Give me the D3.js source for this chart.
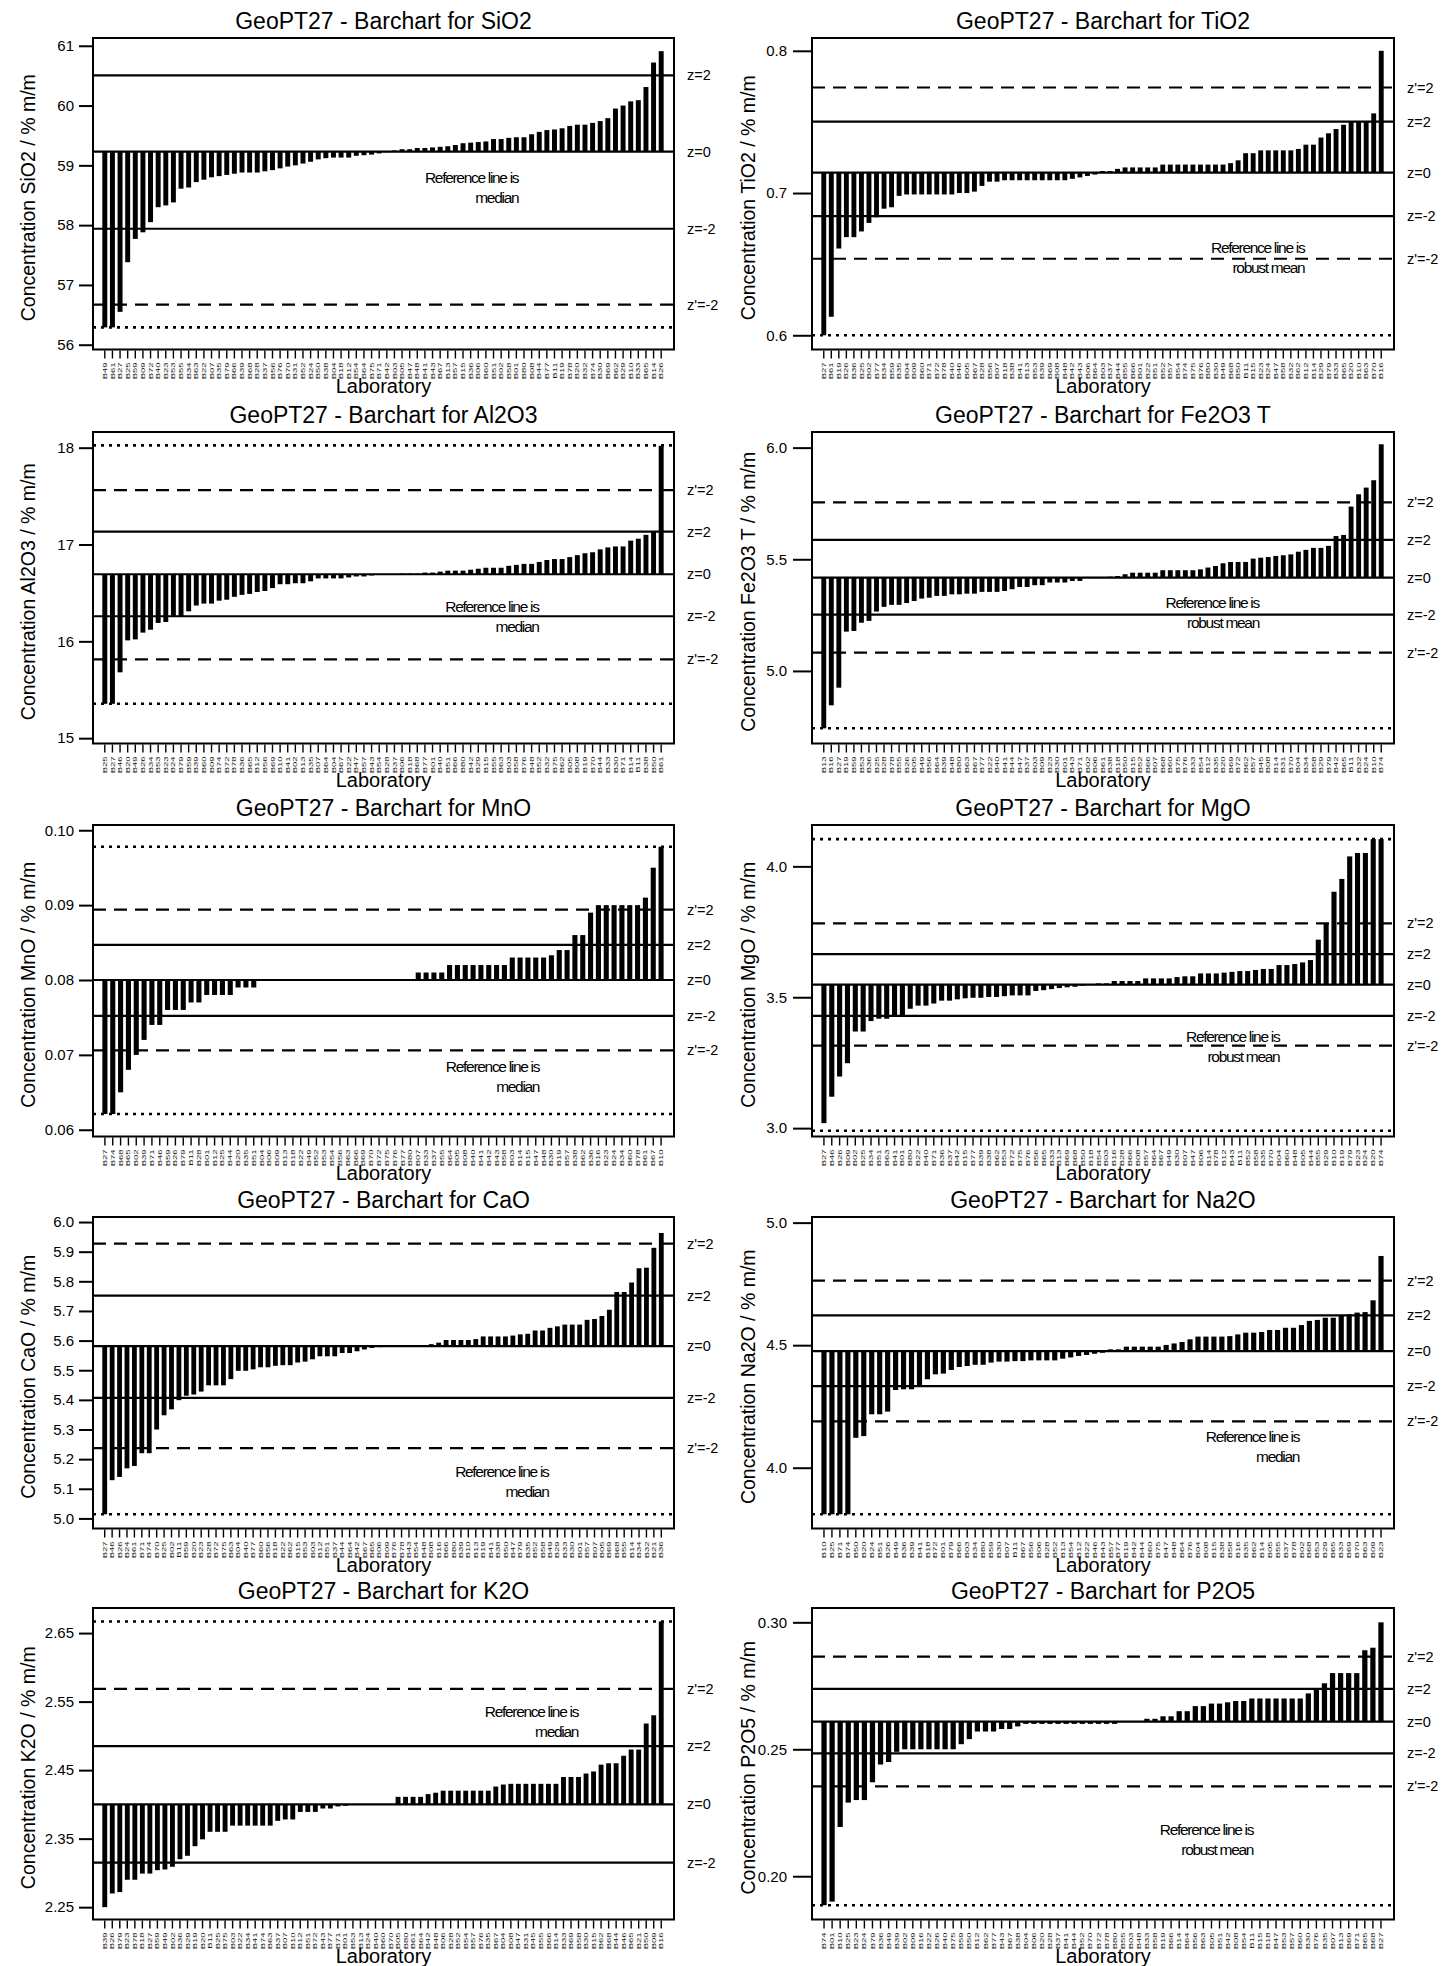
<!DOCTYPE html>
<html><head><meta charset="utf-8">
<script src="https://cdn.jsdelivr.net/npm/d3@7"></script>
<style>html,body{margin:0;padding:0;background:#fff;} svg{display:block;font-family:"Liberation Sans",Arial,Helvetica,sans-serif;}</style>
</head><body><svg id="c" width="1442" height="1966"></svg>
<script>
// ---------------- DATA ----------------
const labs_SiO2 = ["B49","B61","B27","B25","B59","B09","B72","B40","B23","B53","B55","B34","B63","B22","B07","B35","B79","B66","B39","B68","B28","B37","B56","B76","B70","B31","B52","B24","B50","B38","B04","B18","B12","B54","B64","B75","B71","B42","B03","B05","B47","B48","B41","B43","B67","B13","B57","B15","B36","B06","B60","B51","B02","B58","B01","B80","B08","B44","B77","B11","B19","B78","B20","B32","B74","B30","B69","B62","B29","B10","B33","B65","B14","B26"];
const vals_SiO2 = [56.29,56.29,56.55,57.38,57.77,57.88,58.05,58.30,58.33,58.38,58.61,58.63,58.72,58.76,58.80,58.82,58.84,58.86,58.88,58.88,58.88,58.90,58.92,58.95,58.98,59.00,59.03,59.06,59.10,59.12,59.13,59.13,59.13,59.16,59.17,59.18,59.20,59.22,59.25,59.27,59.27,59.29,59.29,59.30,59.31,59.32,59.34,59.37,59.38,59.39,59.40,59.44,59.44,59.46,59.47,59.47,59.52,59.56,59.59,59.60,59.62,59.66,59.68,59.68,59.71,59.74,59.79,59.95,60.00,60.07,60.09,60.31,60.72,60.91];
const lines_SiO2 = [60.506,59.23,57.94,56.67,56.29];
const lineLabs_SiO2 = ["z=2","z=0","z=-2","z'=-2",""];
const ticks_SiO2 = ["56","57","58","59","60","61"];
const range_SiO2 = [55.92,61.13];

const labs_TiO2 = ["B27","B61","B19","B26","B36","B25","B02","B77","B34","B59","B35","B04","B09","B60","B71","B72","B78","B40","B46","B05","B67","B28","B56","B07","B18","B38","B41","B13","B53","B39","B69","B08","B48","B42","B43","B06","B64","B03","B37","B44","B55","B66","B01","B22","B51","B52","B57","B54","B74","B75","B76","B80","B30","B49","B68","B50","B11","B15","B23","B24","B47","B58","B32","B62","B12","B14","B29","B79","B33","B65","B20","B10","B63","B70","B16"];
const vals_TiO2 = [0.600,0.613,0.661,0.669,0.669,0.673,0.679,0.683,0.689,0.690,0.698,0.699,0.699,0.699,0.699,0.699,0.699,0.699,0.700,0.700,0.701,0.705,0.708,0.708,0.709,0.709,0.709,0.709,0.709,0.709,0.709,0.709,0.709,0.710,0.711,0.712,0.713,0.7155,0.7155,0.717,0.718,0.718,0.718,0.718,0.718,0.720,0.720,0.720,0.720,0.720,0.720,0.720,0.720,0.720,0.721,0.723,0.728,0.728,0.730,0.730,0.730,0.730,0.730,0.731,0.734,0.734,0.739,0.742,0.745,0.748,0.750,0.750,0.750,0.756,0.800];
const lines_TiO2 = [0.7742,0.7502,0.7143,0.6838,0.6538,0.600];
const lineLabs_TiO2 = ["z'=2","z=2","z=0","z=-2","z'=-2",""];
const ticks_TiO2 = ["0.6","0.7","0.8"];
const range_TiO2 = [0.590,0.809];

const labs_Al2O3 = ["B25","B27","B46","B20","B49","B26","B34","B53","B23","B24","B79","B59","B39","B60","B09","B74","B72","B78","B36","B65","B12","B56","B69","B10","B41","B02","B13","B35","B07","B64","B04","B67","B22","B47","B57","B43","B54","B28","B37","B06","B18","B68","B77","B01","B40","B51","B66","B80","B42","B29","B15","B55","B63","B03","B58","B76","B48","B52","B32","B75","B62","B05","B08","B19","B70","B44","B33","B30","B71","B14","B11","B38","B50","B61"];
const vals_Al2O3 = [15.355,15.355,15.68,16.01,16.02,16.09,16.12,16.19,16.20,16.26,16.26,16.31,16.37,16.39,16.39,16.42,16.43,16.46,16.48,16.49,16.51,16.52,16.55,16.59,16.59,16.60,16.60,16.62,16.65,16.65,16.65,16.65,16.66,16.67,16.67,16.68,16.69,16.693,16.693,16.70,16.70,16.70,16.71,16.71,16.72,16.73,16.73,16.73,16.74,16.75,16.76,16.76,16.76,16.78,16.79,16.80,16.80,16.82,16.84,16.85,16.85,16.87,16.89,16.91,16.92,16.95,16.97,16.98,16.98,17.04,17.06,17.10,17.13,18.02];
const lines_Al2O3 = [18.024,17.562,17.134,16.693,16.259,15.814,15.355];
const lineLabs_Al2O3 = ["","z'=2","z=2","z=0","z=-2","z'=-2",""];
const ticks_Al2O3 = ["15","16","17","18"];
const range_Al2O3 = [14.945,18.162];

const labs_Fe2O3 = ["B13","B16","B27","B19","B59","B53","B36","B25","B28","B78","B55","B26","B05","B49","B56","B64","B39","B48","B80","B63","B67","B77","B22","B40","B41","B44","B47","B37","B03","B09","B23","B30","B01","B43","B71","B02","B06","B61","B38","B18","B50","B15","B52","B66","B07","B68","B60","B75","B76","B33","B54","B12","B35","B20","B69","B72","B62","B57","B45","B08","B14","B31","B70","B04","B34","B58","B29","B79","B42","B65","B11","B32","B24","B10","B74"];
const vals_Fe2O3 = [4.743,4.846,4.925,5.176,5.179,5.216,5.224,5.266,5.287,5.296,5.296,5.304,5.313,5.324,5.328,5.336,5.336,5.343,5.343,5.346,5.346,5.354,5.354,5.354,5.358,5.366,5.376,5.376,5.384,5.384,5.396,5.396,5.396,5.403,5.403,5.421,5.421,5.421,5.422,5.425,5.433,5.440,5.440,5.440,5.440,5.451,5.451,5.451,5.451,5.451,5.455,5.463,5.470,5.482,5.488,5.488,5.488,5.503,5.507,5.510,5.515,5.518,5.522,5.534,5.542,5.551,5.551,5.560,5.604,5.609,5.736,5.791,5.821,5.854,6.015];
const lines_Fe2O3 = [5.755,5.587,5.418,5.252,5.082,4.743];
const lineLabs_Fe2O3 = ["z'=2","z=2","z=0","z=-2","z'=-2",""];
const ticks_Fe2O3 = ["5.0","5.5","6.0"];
const range_Fe2O3 = [4.675,6.070];

const labs_MnO = ["B27","B74","B68","B65","B02","B39","B71","B46","B59","B26","B79","B11","B28","B01","B12","B25","B44","B20","B35","B51","B04","B06","B09","B13","B18","B22","B49","B52","B53","B54","B56","B63","B66","B69","B70","B72","B75","B76","B77","B80","B07","B33","B37","B55","B64","B05","B08","B40","B41","B42","B43","B58","B03","B14","B15","B47","B48","B30","B19","B57","B38","B62","B36","B16","B23","B24","B34","B60","B78","B61","B67","B10"];
const vals_MnO = [0.0621,0.0621,0.065,0.068,0.070,0.072,0.074,0.074,0.076,0.076,0.076,0.077,0.077,0.078,0.078,0.078,0.078,0.079,0.079,0.079,0.080,0.080,0.080,0.080,0.080,0.080,0.080,0.080,0.080,0.080,0.080,0.080,0.080,0.080,0.080,0.080,0.080,0.080,0.080,0.080,0.081,0.081,0.081,0.081,0.082,0.082,0.082,0.082,0.082,0.082,0.082,0.082,0.083,0.083,0.083,0.083,0.083,0.0833,0.084,0.084,0.086,0.086,0.089,0.090,0.090,0.090,0.090,0.090,0.090,0.091,0.095,0.0978];
const lines_MnO = [0.0978,0.0894,0.0847,0.0800,0.0752,0.0706,0.0621];
const lineLabs_MnO = ["","z'=2","z=2","z=0","z=-2","z'=-2",""];
const ticks_MnO = ["0.06","0.07","0.08","0.09","0.10"];
const range_MnO = [0.0591,0.1007];

const labs_MgO = ["B27","B46","B26","B09","B02","B25","B34","B51","B63","B41","B01","B80","B22","B40","B71","B36","B37","B42","B15","B77","B39","B38","B62","B53","B72","B75","B76","B56","B65","B33","B13","B69","B68","B50","B18","B54","B03","B16","B28","B66","B08","B57","B64","B67","B49","B30","B07","B47","B06","B14","B78","B12","B43","B11","B52","B58","B35","B70","B04","B60","B48","B05","B44","B55","B29","B10","B19","B79","B23","B24","B20","B74"];
const vals_MgO = [3.019,3.120,3.197,3.248,3.369,3.369,3.409,3.418,3.418,3.431,3.431,3.456,3.468,3.468,3.476,3.487,3.487,3.492,3.496,3.498,3.498,3.501,3.501,3.504,3.507,3.507,3.507,3.524,3.527,3.531,3.535,3.538,3.540,3.544,3.548,3.553,3.553,3.562,3.562,3.562,3.562,3.572,3.572,3.572,3.572,3.577,3.580,3.580,3.591,3.591,3.591,3.594,3.597,3.600,3.600,3.604,3.608,3.608,3.623,3.623,3.627,3.633,3.642,3.720,3.782,3.903,3.952,4.038,4.051,4.051,4.104,4.104];
const lines_MgO = [4.104,3.782,3.665,3.548,3.429,3.315,2.990];
const lineLabs_MgO = ["","z'=2","z=2","z=0","z=-2","z'=-2",""];
const ticks_MgO = ["3.0","3.5","4.0"];
const range_MgO = [2.968,4.158];

const labs_CaO = ["B27","B46","B26","B24","B61","B71","B74","B70","B25","B02","B11","B59","B20","B23","B28","B72","B75","B63","B04","B40","B77","B60","B56","B18","B22","B62","B15","B53","B03","B12","B51","B37","B44","B64","B42","B67","B65","B06","B09","B76","B78","B43","B54","B48","B08","B16","B66","B80","B39","B10","B13","B19","B41","B38","B50","B47","B79","B35","B52","B58","B49","B29","B33","B30","B01","B57","B07","B05","B69","B68","B55","B14","B34","B32","B21","B36"];
const vals_CaO = [5.014,5.129,5.140,5.169,5.177,5.220,5.220,5.300,5.348,5.368,5.399,5.414,5.418,5.428,5.449,5.449,5.449,5.470,5.498,5.498,5.503,5.510,5.510,5.515,5.517,5.517,5.526,5.529,5.537,5.547,5.547,5.547,5.558,5.558,5.564,5.570,5.575,5.578,5.581,5.581,5.581,5.581,5.581,5.584,5.588,5.593,5.602,5.602,5.602,5.602,5.605,5.614,5.614,5.614,5.614,5.617,5.621,5.623,5.634,5.634,5.643,5.648,5.654,5.654,5.654,5.670,5.673,5.683,5.704,5.764,5.764,5.796,5.844,5.846,5.913,5.963];
const lines_CaO = [5.927,5.752,5.581,5.407,5.237,5.014];
const lineLabs_CaO = ["z'=2","z=2","z=0","z=-2","z'=-2",""];
const ticks_CaO = ["5.0","5.1","5.2","5.3","5.4","5.5","5.6","5.7","5.8","5.9","6.0"];
const range_CaO = [4.966,6.017];

const labs_Na2O = ["B10","B25","B71","B74","B50","B20","B24","B51","B26","B49","B36","B39","B41","B18","B72","B01","B79","B66","B03","B34","B80","B59","B30","B07","B11","B67","B56","B06","B28","B52","B13","B54","B12","B22","B46","B43","B57","B77","B19","B42","B44","B60","B75","B47","B48","B64","B76","B04","B08","B15","B38","B58","B16","B35","B62","B14","B05","B55","B37","B78","B02","B68","B53","B29","B65","B33","B69","B70","B63","B09","B23"];
const vals_Na2O = [3.810,3.810,3.810,3.810,4.122,4.129,4.218,4.218,4.229,4.317,4.320,4.320,4.331,4.361,4.381,4.384,4.399,4.411,4.415,4.420,4.420,4.429,4.433,4.433,4.435,4.435,4.438,4.438,4.438,4.438,4.445,4.450,4.456,4.460,4.465,4.469,4.483,4.483,4.494,4.494,4.494,4.494,4.494,4.501,4.507,4.513,4.524,4.535,4.535,4.535,4.535,4.537,4.544,4.551,4.551,4.554,4.562,4.562,4.571,4.571,4.582,4.599,4.603,4.612,4.612,4.622,4.626,4.633,4.635,4.683,4.864];
const lines_Na2O = [4.763,4.622,4.476,4.333,4.189,3.810];
const lineLabs_Na2O = ["z'=2","z=2","z=0","z=-2","z'=-2",""];
const ticks_Na2O = ["4.0","4.5","5.0"];
const range_Na2O = [3.752,5.023];

const labs_K2O = ["B39","B26","B79","B23","B78","B18","B27","B59","B49","B02","B36","B29","B19","B20","B11","B25","B75","B03","B22","B34","B41","B74","B63","B37","B07","B10","B12","B51","B72","B43","B77","B71","B01","B53","B13","B24","B40","B60","B70","B05","B80","B61","B64","B42","B48","B06","B28","B52","B54","B57","B76","B35","B67","B04","B08","B47","B31","B45","B55","B66","B14","B33","B69","B58","B30","B15","B62","B68","B44","B46","B65","B21","B50","B09","B16"];
const vals_K2O = [2.250,2.270,2.272,2.290,2.290,2.299,2.299,2.304,2.305,2.309,2.320,2.325,2.339,2.349,2.360,2.360,2.360,2.369,2.369,2.369,2.369,2.369,2.369,2.376,2.378,2.378,2.389,2.389,2.389,2.394,2.394,2.397,2.398,2.399,2.400,2.400,2.400,2.400,2.400,2.411,2.411,2.411,2.411,2.415,2.417,2.420,2.420,2.420,2.420,2.420,2.420,2.420,2.426,2.429,2.430,2.430,2.430,2.430,2.430,2.430,2.430,2.440,2.440,2.440,2.445,2.448,2.458,2.460,2.460,2.471,2.480,2.480,2.518,2.530,2.667];
const lines_K2O = [2.667,2.5685,2.485,2.400,2.315];
const lineLabs_K2O = ["","z'=2","z=2","z=0","z=-2"];
const ticks_K2O = ["2.25","2.35","2.45","2.55","2.65"];
const range_K2O = [2.232,2.6866];

const labs_P2O5 = ["B74","B01","B10","B25","B23","B24","B79","B36","B49","B39","B02","B09","B16","B22","B26","B40","B75","B59","B50","B12","B62","B77","B43","B67","B38","B04","B06","B20","B28","B37","B41","B44","B52","B70","B72","B78","B80","B55","B03","B48","B33","B58","B19","B66","B14","B64","B56","B63","B05","B51","B42","B08","B54","B11","B15","B18","B47","B53","B57","B60","B30","B76","B35","B07","B13","B69","B71","B65","B68","B27"];
const vals_P2O5 = [0.1886,0.190,0.2194,0.229,0.230,0.230,0.237,0.244,0.245,0.249,0.250,0.250,0.250,0.250,0.250,0.250,0.250,0.252,0.254,0.257,0.257,0.257,0.258,0.258,0.259,0.260,0.260,0.260,0.260,0.260,0.260,0.260,0.260,0.260,0.260,0.260,0.260,0.2609,0.261,0.261,0.262,0.262,0.263,0.263,0.265,0.265,0.267,0.267,0.268,0.268,0.2685,0.269,0.269,0.270,0.270,0.270,0.270,0.270,0.270,0.270,0.272,0.274,0.276,0.280,0.280,0.280,0.280,0.289,0.290,0.300];
const lines_P2O5 = [0.2865,0.2738,0.2609,0.2484,0.2354,0.1886];
const lineLabs_P2O5 = ["z'=2","z=2","z=0","z=-2","z'=-2",""];
const ticks_P2O5 = ["0.20","0.25","0.30"];
const range_P2O5 = [0.18296,0.30564];

const analytes = ["SiO2","TiO2","Al2O3","Fe2O3 T","MnO","MgO","CaO","Na2O","K2O","P2O5"];
const refTypes = ["median","robust mean","median","robust mean","median","robust mean","median","median","median","robust mean"];

// ---------------- LAYOUT ----------------
const panels = [
  {labs:labs_SiO2, vals:vals_SiO2, lines:lines_SiO2, lineLabs:lineLabs_SiO2, ticks:ticks_SiO2, range:range_SiO2, refPos:[0.732,0.449]},
  {labs:labs_TiO2, vals:vals_TiO2, lines:lines_TiO2, lineLabs:lineLabs_TiO2, ticks:ticks_TiO2, range:range_TiO2, refPos:[0.846,0.672]},
  {labs:labs_Al2O3, vals:vals_Al2O3, lines:lines_Al2O3, lineLabs:lineLabs_Al2O3, ticks:ticks_Al2O3, range:range_Al2O3, refPos:[0.767,0.559]},
  {labs:labs_Fe2O3, vals:vals_Fe2O3, lines:lines_Fe2O3, lineLabs:lineLabs_Fe2O3, ticks:ticks_Fe2O3, range:range_Fe2O3, refPos:[0.768,0.547]},
  {labs:labs_MnO, vals:vals_MnO, lines:lines_MnO, lineLabs:lineLabs_MnO, ticks:ticks_MnO, range:range_MnO, refPos:[0.768,0.776]},
  {labs:labs_MgO, vals:vals_MgO, lines:lines_MgO, lineLabs:lineLabs_MgO, ticks:ticks_MgO, range:range_MgO, refPos:[0.803,0.680]},
  {labs:labs_CaO, vals:vals_CaO, lines:lines_CaO, lineLabs:lineLabs_CaO, ticks:ticks_CaO, range:range_CaO, refPos:[0.784,0.816]},
  {labs:labs_Na2O, vals:vals_Na2O, lines:lines_Na2O, lineLabs:lineLabs_Na2O, ticks:ticks_Na2O, range:range_Na2O, refPos:[0.837,0.704]},
  {labs:labs_K2O, vals:vals_K2O, lines:lines_K2O, lineLabs:lineLabs_K2O, ticks:ticks_K2O, range:range_K2O, refPos:[0.835,0.331]},
  {labs:labs_P2O5, vals:vals_P2O5, lines:lines_P2O5, lineLabs:lineLabs_P2O5, ticks:ticks_P2O5, range:range_P2O5, refPos:[0.758,0.711]}
];

const FONT = '"Liberation Sans",Arial,Helvetica,sans-serif';
const svg = d3.select("#c");
svg.append("rect").attr("width",1442).attr("height",1966).attr("fill","#fff");
const rowTops = [1,395,788,1180,1571];

panels.forEach((p,i)=>{
  const col = i%2, row = Math.floor(i/2);
  const ox = col*720;
  const L = ox+(col===0?93:92), R = ox+674, top = rowTops[row]+37, bottom = rowTops[row]+348.5;
  const g = svg.append("g");
  const x = d3.scaleBand().domain(d3.range(p.vals.length)).range([L+8,R-9]).paddingInner(0.35).paddingOuter(0.175);
  const y = d3.scaleLinear().domain(p.range).range([bottom,top]);
  const z0 = p.lines[p.lineLabs.indexOf("z=0")];

  // bars
  g.selectAll("rect.bar").data(p.vals).join("rect").attr("class","bar")
    .attr("x",(d,j)=>x(j)).attr("width",x.bandwidth())
    .attr("y",d=>Math.min(y(d),y(z0))).attr("height",d=>Math.max(0.01,Math.abs(y(d)-y(z0))))
    .attr("fill","#000");

  // reference lines
  p.lines.forEach((v,k)=>{
    const lab = p.lineLabs[k];
    const ln = g.append("line").attr("x1",L).attr("x2",R).attr("y1",y(v)).attr("y2",y(v)).attr("stroke","#000");
    if(lab==="") ln.attr("stroke-width",2.6).attr("stroke-dasharray","3,5");
    else if(lab.startsWith("z'")) ln.attr("stroke-width",2.2).attr("stroke-dasharray","13,8");
    else ln.attr("stroke-width",2.2);
    if(lab!==""){
      g.append("text").attr("x",R+13).attr("y",y(v)).attr("dy","0.35em")
        .attr("font-size",14.5).attr("font-family",FONT).attr("fill","#000").text(lab);
    }
  });

  // frame
  g.append("rect").attr("x",L).attr("y",top).attr("width",R-L).attr("height",bottom-top)
    .attr("fill","none").attr("stroke","#000").attr("stroke-width",2);

  // y axis
  const tLen = col===0 ? 14 : 19;
  const ya = g.append("g").attr("transform",`translate(${L},0)`)
    .call(d3.axisLeft(y).tickValues(p.ticks.map(Number)).tickFormat((d,k)=>p.ticks[k]).tickSize(tLen).tickPadding(col===0?5:6));
  ya.select(".domain").remove();
  ya.selectAll("line").attr("stroke","#000").attr("stroke-width",2);
  ya.selectAll("text").attr("font-size",15).attr("font-family",FONT).attr("fill","#000");

  // x axis
  const xa = g.append("g").attr("transform",`translate(0,${bottom+1})`)
    .call(d3.axisBottom(x).tickFormat(j=>p.labs[j]).tickSize(8).tickPadding(3));
  xa.select(".domain").remove();
  xa.selectAll("line").attr("stroke","#000").attr("stroke-width",1.4);
  xa.selectAll("text").attr("x",-12).attr("y",0).attr("dy","0.35em")
    .attr("text-anchor","end").attr("transform","rotate(-90) scale(1,0.62)")
    .attr("font-size",9.5).attr("font-family",FONT).attr("fill","#111");

  // titles
  g.append("text").attr("x",(L+R)/2).attr("y",top-9).attr("text-anchor","middle")
    .attr("font-size",23).attr("font-family",FONT).text("GeoPT27 - Barchart for "+analytes[i]);
  g.append("text").attr("x",(L+R)/2).attr("y",bottom+43).attr("text-anchor","middle")
    .attr("font-size",20).attr("font-family",FONT).text("Laboratory");
  g.append("text").attr("transform",`translate(${ox+28},${(top+bottom)/2+4}) rotate(-90)`)
    .attr("text-anchor","middle").attr("dy","0.35em")
    .attr("font-size",19.5).attr("font-family",FONT).text("Concentration "+analytes[i]+" / % m/m");

  // reference note
  const rx = L + p.refPos[0]*(R-L), ry = top + p.refPos[1]*(bottom-top);
  g.append("text").attr("x",rx).attr("y",ry).attr("dy","0.35em").attr("text-anchor","end")
    .attr("font-size",15.5).attr("letter-spacing","-1.3px").attr("font-family",FONT).text("Reference line is");
  g.append("text").attr("x",rx).attr("y",ry+20).attr("dy","0.35em").attr("text-anchor","end")
    .attr("font-size",15.5).attr("letter-spacing","-1.3px").attr("font-family",FONT).text(refTypes[i]);
});
</script></body></html>
